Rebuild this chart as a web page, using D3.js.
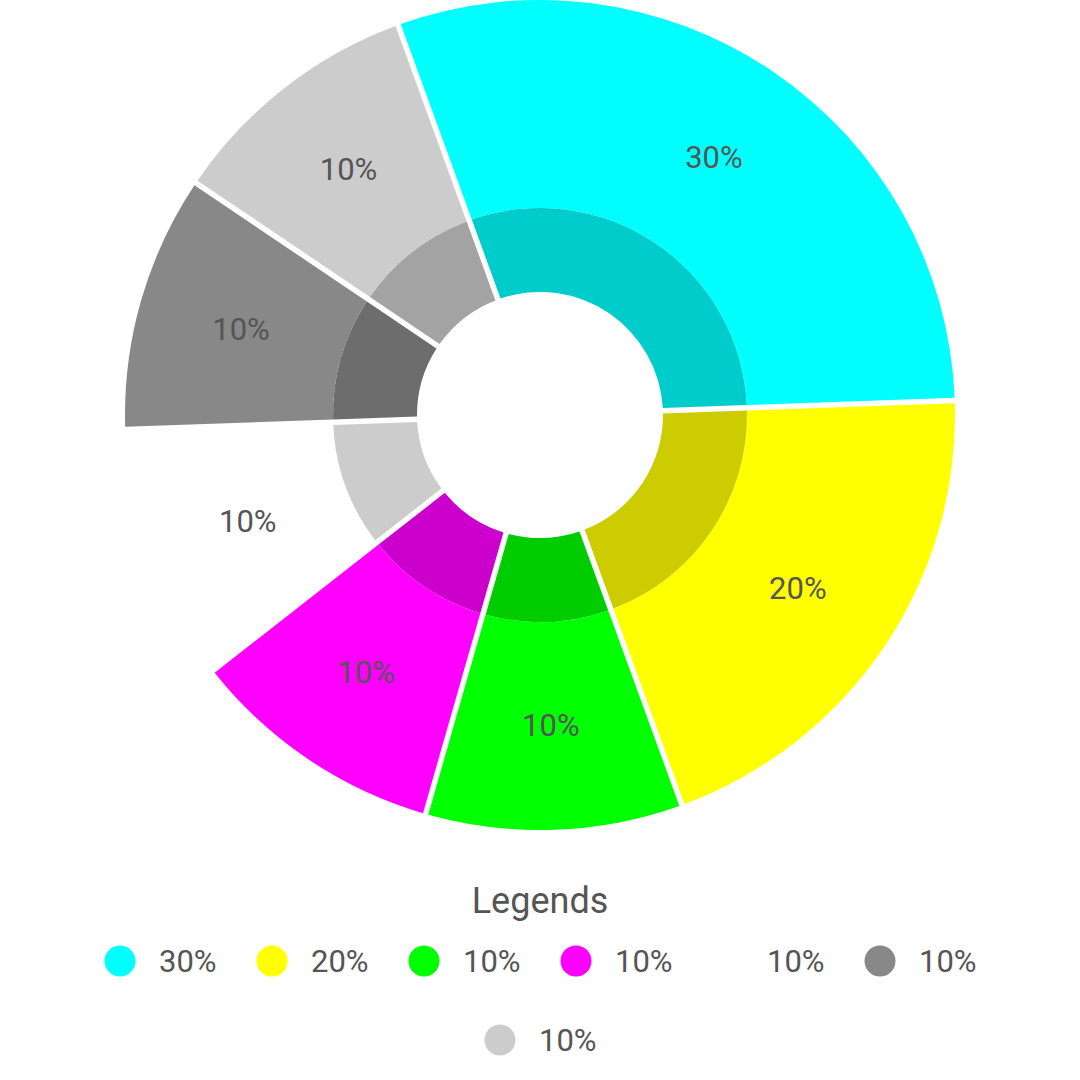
<!DOCTYPE html>
<html>
<head>
<meta charset="utf-8">
<script src="https://cdn.jsdelivr.net/npm/d3@7"></script>
<style>
  html, body { margin: 0; padding: 0; background: #ffffff; }
  svg { display: block; font-family: Roboto, "Noto Sans", sans-serif; }
</style>
</head>
<body>
<svg id="chart" width="1080" height="1080"></svg>
<script>
const categories = ["30%", "20%", "10%", "10%", "10%", "10%", "10%"];
const values = [30, 20, 10, 10, 10, 10, 10];
const palette = ["#00ffff", "#ffff00", "#00ff00", "#ff00ff", "#ffffff", "#888888", "#cccccc"];
const legendTitle = "Legends";

const W = 1080, H = 1080;
const cx = 540, cy = 415;
const rHole = 123, rMid = 207, rOuter = 415;
const textColor = "#555555";

const svg = d3.select("#chart");

const data = categories.map((c, i) => ({ label: c, value: values[i], color: palette[i] }));

const deg = Math.PI / 180;
const pie = d3.pie()
  .value(d => d.value)
  .sort(null)
  .startAngle(-20 * deg)
  .endAngle(340 * deg);

const arcs = pie(data);

const outerArc = d3.arc().innerRadius(rMid).outerRadius(rOuter).padAngle(0.055).padRadius(100);
const innerArc = d3.arc().innerRadius(rHole).outerRadius(rMid).padAngle(0.055).padRadius(100);

const darken = c => {
  const r = d3.rgb(c);
  return d3.rgb(r.r * 0.8, r.g * 0.8, r.b * 0.8).formatHex();
};

const g = svg.append("g").attr("transform", `translate(${cx},${cy})`);

g.selectAll("path.outer")
  .data(arcs)
  .join("path")
  .attr("class", "outer")
  .attr("d", outerArc)
  .attr("fill", d => d.data.color);

g.selectAll("path.inner")
  .data(arcs)
  .join("path")
  .attr("class", "inner")
  .attr("d", innerArc)
  .attr("fill", d => darken(d.data.color));

g.selectAll("text.lbl")
  .data(arcs)
  .join("text")
  .attr("class", "lbl")
  .attr("transform", d => `translate(${outerArc.centroid(d)})`)
  .attr("text-anchor", "middle")
  .attr("dominant-baseline", "central")
  .attr("font-size", 31)
  .attr("fill", textColor)
  .text(d => d.data.label);

// Legend
svg.append("text")
  .attr("x", 540)
  .attr("y", 913)
  .attr("text-anchor", "middle")
  .attr("font-size", 36)
  .attr("fill", textColor)
  .text(legendTitle);

const itemW = 152, perRow = 6;
const rows = d3.groups(data.map((d, i) => ({ ...d, i })), d => Math.floor(d.i / perRow));
const contentW = 112;
rows.forEach(([ri, items]) => {
  const n = items.length;
  const totalW = (n - 1) * itemW + contentW;
  const x0 = (W - totalW) / 2;
  const y = 961 + ri * 79;
  const lg = svg.append("g");
  const it = lg.selectAll("g")
    .data(items)
    .join("g")
    .attr("transform", (d, k) => `translate(${x0 + k * itemW},${y})`);
  it.append("circle")
    .attr("cx", 16)
    .attr("cy", 0)
    .attr("r", 15.5)
    .attr("fill", d => d.color);
  it.append("text")
    .attr("x", 55)
    .attr("y", 0)
    .attr("dominant-baseline", "central")
    .attr("font-size", 31)
    .attr("fill", textColor)
    .text(d => d.label);
});
</script>
</body>
</html>
